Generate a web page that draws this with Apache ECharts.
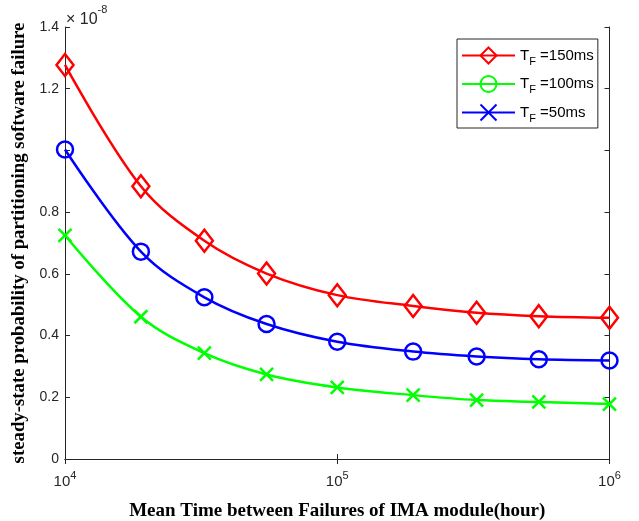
<!DOCTYPE html>
<html>
<head>
<meta charset="UTF-8"/>
<title></title>
<script src="https://cdn.jsdelivr.net/npm/echarts@6/dist/echarts.min.js"></script>
<style>
  html, body { margin: 0; padding: 0; background: #fff; }
  #main { width: 639px; height: 521px; }
</style>
</head>
<body>
<div id="main"></div>
<script type="text/javascript">
// MTBF (hour), log scale
var mtbf = [10000, 19000, 32500, 55000, 100000, 190000, 325000, 550000, 1000000];
// probability values in units of 1e-8
var tf150 = [1.277, 0.884, 0.707, 0.601, 0.531, 0.496, 0.474, 0.463, 0.458];
var tf100 = [1.003, 0.672, 0.524, 0.4375, 0.380, 0.348, 0.332, 0.323, 0.319];
var tf50  = [0.725, 0.461, 0.343, 0.274, 0.232, 0.207, 0.191, 0.185, 0.178];
var legendNames = ['150ms', '100ms', '50ms'];

var axisColor = '#262626';
var crossPath = 'path://M0,0L10,10M0,10L10,0';

function curve(name, vals, color, symbol, size) {
  return {
    name: name,
    type: 'line',
    data: mtbf.map(function (x, i) { return [x, vals[i]]; }),
    smooth: 0.35,
    symbol: symbol,
    symbolSize: size,
    showAllSymbol: true,
    lineStyle: { color: color, width: 2.5 },
    itemStyle: { color: 'rgba(0,0,0,0)', borderColor: color, borderWidth: 2.5 },
    emphasis: { disabled: true },
    z: 3
  };
}
function legendOnly(name, color, symbol) {
  return {
    name: name,
    type: 'line',
    data: [],
    symbol: symbol,
    lineStyle: { color: color, width: 2.5 },
    itemStyle: { color: 'rgba(0,0,0,0)', borderColor: color, borderWidth: 2.5 }
  };
}

var myChart = echarts.init(document.getElementById('main'));
var option = {
  animation: false,
  backgroundColor: '#fff',
  grid: { left: 65, right: 29.5, top: 27, bottom: 62, outerBoundsMode: 'none', containLabel: false },
  legend: {
    data: legendNames,
    left: 457, top: 39,
    orient: 'vertical',
    padding: [5, 4, 4, 4],
    itemWidth: 53, itemHeight: 20, itemGap: 5.5,
    borderColor: axisColor, borderWidth: 1,
    backgroundColor: '#fff',
    selectedMode: false,
    formatter: function (n) { return '{t|T}{f|F}{t| =' + n + '}'; },
    textStyle: {
      rich: {
        t: { fontSize: 15, fontFamily: 'Liberation Sans', color: '#000', lineHeight: 22, verticalAlign: 'middle' },
        f: { fontSize: 11, fontFamily: 'Liberation Sans', color: '#000', lineHeight: 10, padding: [12, 0, 0, 0], verticalAlign: 'middle' }
      }
    }
  },
  graphic: [{
    type: 'text', left: 66, top: 4,
    style: {
      text: '{a|\u00d7 10}{s|-8}',
      rich: {
        a: { fontSize: 16, fontFamily: 'Liberation Sans', fill: axisColor, lineHeight: 24, verticalAlign: 'bottom' },
        s: { fontSize: 11, fontFamily: 'Liberation Sans', fill: axisColor, lineHeight: 8, verticalAlign: 'top' }
      }
    }
  }],
  xAxis: [{
    type: 'log', logBase: 10, min: 10000, max: 1000000,
    name: 'Mean Time between Failures of IMA module(hour)',
    nameLocation: 'middle', nameGap: 43,
    nameTextStyle: { fontFamily: 'Liberation Serif', fontWeight: 'bold', fontSize: 19, color: '#000' },
    axisLine: { lineStyle: { color: axisColor, width: 1 } },
    axisTick: { inside: true, length: 5, lineStyle: { color: axisColor } },
    minorTick: { show: false },
    splitLine: { show: false },
    axisLabel: {
      margin: 11,
      formatter: function (v) { return '{b|10}{s|' + Math.round(Math.log10(v)) + '}'; },
      rich: {
        b: { fontSize: 15, fontFamily: 'Liberation Sans', color: axisColor, lineHeight: 24, verticalAlign: 'middle' },
        s: { fontSize: 11, fontFamily: 'Liberation Sans', color: axisColor, lineHeight: 6, verticalAlign: 'top' }
      }
    }
  }, {
    type: 'log', logBase: 10, min: 10000, max: 1000000, position: 'top',
    axisLine: { lineStyle: { color: axisColor, width: 1 } },
    axisTick: { inside: true, length: 5, lineStyle: { color: axisColor } },
    axisLabel: { show: false }, splitLine: { show: false }
  }],
  yAxis: [{
    type: 'value', min: 0, max: 1.4, interval: 0.2,
    name: 'steady-state probability of partitioning software failure',
    nameLocation: 'middle', nameGap: 29,
    nameTextStyle: { fontFamily: 'Liberation Serif', fontWeight: 'bold', fontSize: 18.8, color: '#000' },
    axisLine: { show: true, lineStyle: { color: axisColor, width: 1 } },
    axisTick: { show: true, inside: true, length: 5, lineStyle: { color: axisColor } },
    splitLine: { show: false },
    axisLabel: {
      margin: 6, fontSize: 14, fontFamily: 'Liberation Sans', color: axisColor,
      formatter: function (v) { return Math.abs(v - 1) < 1e-6 ? '' : String(+v.toFixed(1)); }
    }
  }, {
    type: 'value', min: 0, max: 1.4, interval: 0.2, position: 'right',
    axisLine: { show: true, lineStyle: { color: axisColor, width: 1 } },
    axisTick: { show: true, inside: true, length: 5, lineStyle: { color: axisColor } },
    axisLabel: { show: false }, splitLine: { show: false }
  }],
  series: [
    curve('T_F=150ms', tf150, '#ff0000', 'diamond', [17, 22]),
    curve('T_F=100ms', tf100, '#0000ff', 'circle', 16),
    curve('T_F=50ms', tf50, '#00ff00', crossPath, 13),
    legendOnly('150ms', '#ff0000', 'diamond'),
    legendOnly('100ms', '#00ff00', 'circle'),
    legendOnly('50ms', '#0000ff', crossPath)
  ]
};
myChart.setOption(option);
</script>
</body>
</html>
